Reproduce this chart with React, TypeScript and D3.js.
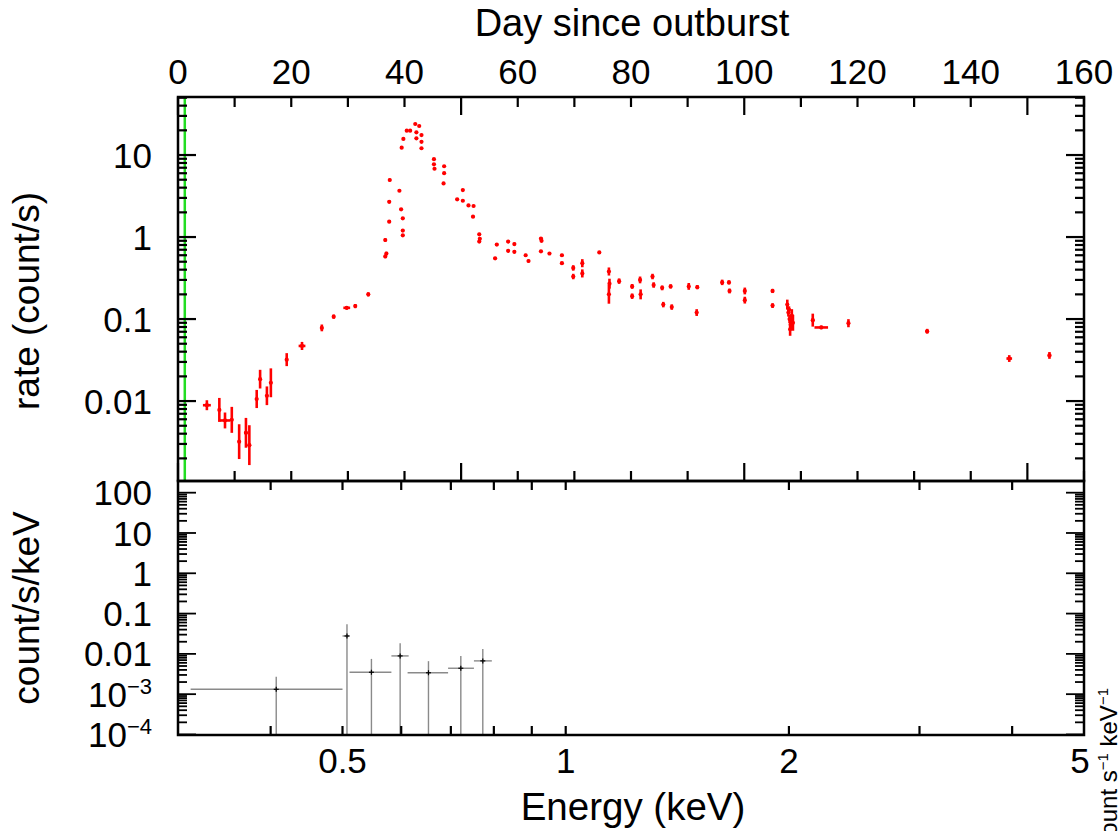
import React from 'react';
import * as d3 from 'd3';

// ---------- Upper panel: light curve (day since outburst vs rate) ----------
const lcDay = [
  5.1, 7.3, 8.3, 9.5, 10.8, 12.0, 12.6, 13.9, 14.5, 15.7,
  16.4, 19.2, 21.9, 25.4, 27.5, 29.8, 31.3, 33.6, 36.6, 36.8,
  36.6, 37.4, 37.3, 37.3, 39.1, 39.4, 39.7, 39.7, 39.7, 39.5,
  39.8, 40.4, 41.0, 41.9, 42.6, 42.1, 43.0, 42.1, 43.0, 43.0,
  45.2, 45.2, 45.3, 47.0, 47.0, 46.9, 50.3, 49.3, 50.3, 51.3,
  52.2, 52.1, 53.2, 53.3, 53.2, 56.3, 56.0, 58.3, 58.3, 59.4,
  59.4, 61.4, 61.9, 64.1, 64.2, 64.1, 65.6, 67.8, 67.8, 69.8,
  69.8, 71.4, 71.4, 74.4, 76.1, 76.2, 76.1, 77.9, 80.2, 80.2,
  81.6, 81.7, 83.8, 84.0, 85.5, 85.7, 87.0, 87.2, 90.2, 91.7,
  91.6, 96.1, 97.3, 97.4, 100.1, 100.1, 105.0, 105.0, 107.6, 107.9,
  107.8, 108.4, 108.0, 108.6, 108.2, 108.1, 112.1, 113.6, 118.4, 132.3,
  146.8, 153.9,
];
const lcRate = [
  0.0089, 0.0078, 0.0058, 0.0059, 0.0032, 0.0041, 0.0029, 0.0106, 0.0185, 0.0116,
  0.0167, 0.032, 0.047, 0.078, 0.107, 0.137, 0.144, 0.20, 0.92, 0.63,
  0.58, 4.96, 2.69, 1.54, 3.67, 2.18, 1.69, 1.20, 1.05, 12.3,
  15.7, 19.8, 19.8, 23.9, 22.6, 18.9, 17.5, 16.0, 14.5, 12.1,
  8.9, 7.7, 6.8, 7.3, 6.0, 4.5, 3.74, 2.88, 2.77, 2.43,
  2.39, 1.77, 1.08, 0.95, 0.88, 0.81, 0.55, 0.88, 0.68, 0.82,
  0.66, 0.60, 0.51, 0.96, 0.90, 0.67, 0.63, 0.60, 0.48, 0.42,
  0.33, 0.48, 0.36, 0.65, 0.38, 0.27, 0.20, 0.29, 0.25, 0.19,
  0.30, 0.20, 0.33, 0.26, 0.24, 0.15, 0.25, 0.14, 0.25, 0.245,
  0.12, 0.28, 0.28, 0.22, 0.22, 0.17, 0.22, 0.146, 0.15, 0.13,
  0.12, 0.11, 0.10, 0.09, 0.085, 0.075, 0.097, 0.079, 0.089, 0.071,
  0.033, 0.036,
];
// multiplicative half-range of the rate error bars
const lcRateErr = [
  1.15, 1.40, 1.25, 1.44, 1.63, 1.52, 1.75, 1.29, 1.30, 1.30,
  1.50, 1.20, 1.12, 1.10, 1.06, 1.05, 1.06, 1.06, 1.05, 1.05,
  1.05, 1.04, 1.04, 1.04, 1.03, 1.03, 1.03, 1.03, 1.03, 1.02,
  1.02, 1.02, 1.02, 1.02, 1.02, 1.02, 1.02, 1.02, 1.02, 1.02,
  1.02, 1.02, 1.02, 1.02, 1.02, 1.02, 1.03, 1.03, 1.03, 1.03,
  1.03, 1.03, 1.04, 1.04, 1.04, 1.04, 1.04, 1.04, 1.04, 1.04,
  1.04, 1.04, 1.04, 1.04, 1.04, 1.04, 1.04, 1.04, 1.04, 1.08,
  1.08, 1.12, 1.12, 1.04, 1.12, 1.15, 1.30, 1.08, 1.07, 1.08,
  1.10, 1.15, 1.08, 1.08, 1.07, 1.08, 1.06, 1.08, 1.10, 1.06,
  1.10, 1.08, 1.06, 1.07, 1.10, 1.10, 1.06, 1.07, 1.15, 1.10,
  1.12, 1.20, 1.12, 1.25, 1.15, 1.20, 1.20, 1.05, 1.12, 1.07,
  1.10, 1.10,
];
const lcDayErr = [
  0.7, 0.15, 0.9, 0.15, 0.15, 0.3, 0.3, 0.15, 0.15, 0.15,
  0.15, 0.15, 0.6, 0.15, 0.15, 0.6, 0.15, 0.15, 0.1, 0.1,
  0.1, 0.1, 0.1, 0.1, 0.1, 0.1, 0.1, 0.1, 0.1, 0.1,
  0.1, 0.1, 0.1, 0.1, 0.1, 0.1, 0.1, 0.1, 0.1, 0.1,
  0.1, 0.1, 0.1, 0.1, 0.1, 0.1, 0.1, 0.1, 0.1, 0.1,
  0.1, 0.1, 0.1, 0.1, 0.1, 0.1, 0.1, 0.1, 0.1, 0.1,
  0.1, 0.1, 0.1, 0.1, 0.1, 0.1, 0.1, 0.1, 0.1, 0.1,
  0.1, 0.1, 0.1, 0.1, 0.1, 0.1, 0.1, 0.1, 0.1, 0.1,
  0.1, 0.1, 0.1, 0.1, 0.1, 0.1, 0.1, 0.1, 0.1, 0.1,
  0.1, 0.1, 0.1, 0.1, 0.1, 0.1, 0.1, 0.1, 0.1, 0.1,
  0.1, 0.1, 0.1, 0.1, 0.1, 0.1, 0.3, 1.2, 0.1, 0.3,
  0.5, 0.3,
];
const markerDay = 1.2; // green vertical marker
const dayTickLabels = [0, 20, 40, 60, 80, 100, 120, 140, 160];
const rateTickLabels = [0.01, 0.1, 1, 10];

// ---------- Lower panel: spectrum ----------
const specE = [0.407, 0.507, 0.547, 0.598, 0.653, 0.722, 0.773];
const specELo = [0.312, 0.50, 0.511, 0.582, 0.612, 0.694, 0.752];
const specEHi = [0.50, 0.511, 0.582, 0.614, 0.694, 0.752, 0.795];
const specVal = [0.00132, 0.0278, 0.0035, 0.0089, 0.0034, 0.0044, 0.0067];
const specHi = [0.0027, 0.054, 0.0075, 0.0183, 0.0066, 0.0089, 0.0133];
const specLo = [1e-6, 1e-6, 1e-6, 1e-6, 1e-6, 1e-6, 1e-6];
const energyTickLabels = [0.5, 1, 2, 5];
const specTickLabels: [number, string, string][] = [
  [100, '100', ''], [10, '10', ''], [1, '1', ''], [0.1, '0.1', ''],
  [0.01, '0.01', ''], [1e-3, '10', '\u22123'], [1e-4, '10', '\u22124'],
];

const FONT = "'Liberation Sans', Arial, Helvetica, sans-serif";

export default function App() {
  const L = 178, R = 1084, T = 97, M = 481, B = 735;
  const xDay = d3.scaleLinear().domain([0, 160]).range([L, R]);
  const yRate = d3.scaleLog().domain([0.00106, 51]).range([M, T]);
  const xE = d3.scaleLog().domain([0.3, 5]).range([L, R]);
  const ySpec = d3.scaleLog().domain([9.7e-5, 195]).range([B, M]);

  const isDecade = (v: number) => Math.abs(Math.log10(v) - Math.round(Math.log10(v))) < 1e-6;
  const dayTicks = d3.range(0, 161, 10);
  const rateTicks = yRate.ticks().filter(v => v >= 0.00106 && v <= 51);
  const specTicks = ySpec.ticks().filter(v => v >= 9.7e-5 && v <= 195);
  const eTicks = xE.ticks().filter(v => v > 0.3 && v < 5);

  const tickStroke = { stroke: '#000', strokeWidth: 2.2 };
  const red = '#ff0000';
  const labelX = 152;

  return (
    <svg width={1118} height={831} style={{ position: 'absolute', left: 0, top: 0, background: '#fff' }}
      fontFamily={FONT}>
      <defs>
        <clipPath id="upClip"><rect x={L} y={T} width={R - L} height={M - T} /></clipPath>
        <clipPath id="loClip"><rect x={L} y={M} width={R - L} height={B - M} /></clipPath>
      </defs>
      <rect x={0} y={0} width={1118} height={831} fill="#fff" />

      {/* Top axis title & labels */}
      <text x={632} y={36} fontSize={38} textAnchor="middle">Day since outburst</text>
      {dayTickLabels.map(d => (
        <text key={'dl' + d} x={xDay(d)} y={84} fontSize={35} textAnchor="middle">{d}</text>
      ))}

      {/* green marker */}
      <line x1={xDay(markerDay)} x2={xDay(markerDay)} y1={T} y2={M} stroke="#22dd22" strokeWidth={2.5} />

      {/* light-curve points */}
      <g clipPath="url(#upClip)" stroke={red} strokeWidth={2.6} fill={red}>
        {lcDay.map((d, i) => {
          const r = lcRate[i], f = lcRateErr[i], de = lcDayErr[i];
          const cx = xDay(d), cy = yRate(r);
          return (
            <g key={'p' + i}>
              <line x1={cx} x2={cx} y1={yRate(r / f)} y2={yRate(r * f)} />
              <line x1={xDay(d - de)} x2={xDay(d + de)} y1={cy} y2={cy} />
              <circle cx={cx} cy={cy} r={2.1} stroke="none" />
            </g>
          );
        })}
      </g>

      {/* Upper panel ticks */}
      {dayTicks.map(d => {
        const len = d % 50 === 0 ? 18 : 10;
        return (
          <g key={'dt' + d}>
            <line x1={xDay(d)} x2={xDay(d)} y1={T} y2={T + len} {...tickStroke} />
            <line x1={xDay(d)} x2={xDay(d)} y1={M} y2={M - len} {...tickStroke} />
          </g>
        );
      })}
      {rateTicks.map((v, i) => {
        const len = isDecade(v) ? 18 : 9;
        const y = yRate(v);
        return (
          <g key={'rt' + i}>
            <line x1={L} x2={L + len} y1={y} y2={y} {...tickStroke} />
            <line x1={R} x2={R - len} y1={y} y2={y} {...tickStroke} />
          </g>
        );
      })}
      {rateTickLabels.map(v => (
        <text key={'rl' + v} x={labelX} y={yRate(v)} dy="0.36em" fontSize={35} textAnchor="end">{v}</text>
      ))}
      <text transform={`translate(39,${(T + M) / 2 + 12}) rotate(-90)`} fontSize={37} textAnchor="middle">rate (count/s)</text>

      {/* spectrum */}
      <g clipPath="url(#loClip)" stroke="#8a8a8a" strokeWidth={1.4}>
        {specE.map((e, i) => {
          const cx = xE(e), cy = ySpec(specVal[i]);
          return (
            <g key={'s' + i}>
              <line x1={xE(specELo[i])} x2={xE(specEHi[i])} y1={cy} y2={cy} />
              <line x1={cx} x2={cx} y1={ySpec(specLo[i])} y2={ySpec(specHi[i])} />
              <line x1={cx - 2.5} x2={cx + 2.5} y1={cy} y2={cy} stroke="#000" strokeWidth={1.2} />
              <line x1={cx} x2={cx} y1={cy - 2.5} y2={cy + 2.5} stroke="#000" strokeWidth={1.2} />
            </g>
          );
        })}
      </g>

      {/* Lower panel ticks */}
      {eTicks.map((v, i) => (
        <g key={'et' + i}>
          <line x1={xE(v)} x2={xE(v)} y1={M} y2={M + 9} {...tickStroke} />
          <line x1={xE(v)} x2={xE(v)} y1={B} y2={B - 9} {...tickStroke} />
        </g>
      ))}
      {specTicks.map((v, i) => {
        const len = isDecade(v) ? 18 : 9;
        const y = ySpec(v);
        return (
          <g key={'st' + i}>
            <line x1={L} x2={L + len} y1={y} y2={y} {...tickStroke} strokeWidth={1.8} />
            <line x1={R} x2={R - len} y1={y} y2={y} {...tickStroke} strokeWidth={1.8} />
          </g>
        );
      })}
      {specTickLabels.map(([v, base, sup]) => (
        <text key={'sl' + v} x={labelX} y={ySpec(v)} dy="0.36em" fontSize={35} textAnchor="end">
          {base}{sup ? <tspan fontSize={22} dy="-13">{sup}</tspan> : null}
        </text>
      ))}
      <text transform={`translate(39,${(M + B) / 2}) rotate(-90)`} fontSize={37} textAnchor="middle">count/s/keV</text>

      {energyTickLabels.map(v => (
        <text key={'el' + v} x={v === 5 ? xE(v) - 4 : xE(v)} y={773} fontSize={35} textAnchor="middle">{v}</text>
      ))}
      <text x={633} y={820} fontSize={38.5} textAnchor="middle">Energy (keV)</text>

      {/* right-hand label, cut off by the bottom edge as in the original */}
      <text transform="translate(1117,688) rotate(-90)" fontSize={24} textAnchor="end">
        normalized count s<tspan fontSize={15} dy="-9">{'\u22121'}</tspan><tspan dy="9"> keV</tspan><tspan fontSize={15} dy="-9">{'\u22121'}</tspan>
      </text>

      {/* frames */}
      <rect x={L} y={T} width={R - L} height={M - T} fill="none" stroke="#000" strokeWidth={2.5} />
      <rect x={L} y={M} width={R - L} height={B - M} fill="none" stroke="#000" strokeWidth={2.5} />
    </svg>
  );
}
